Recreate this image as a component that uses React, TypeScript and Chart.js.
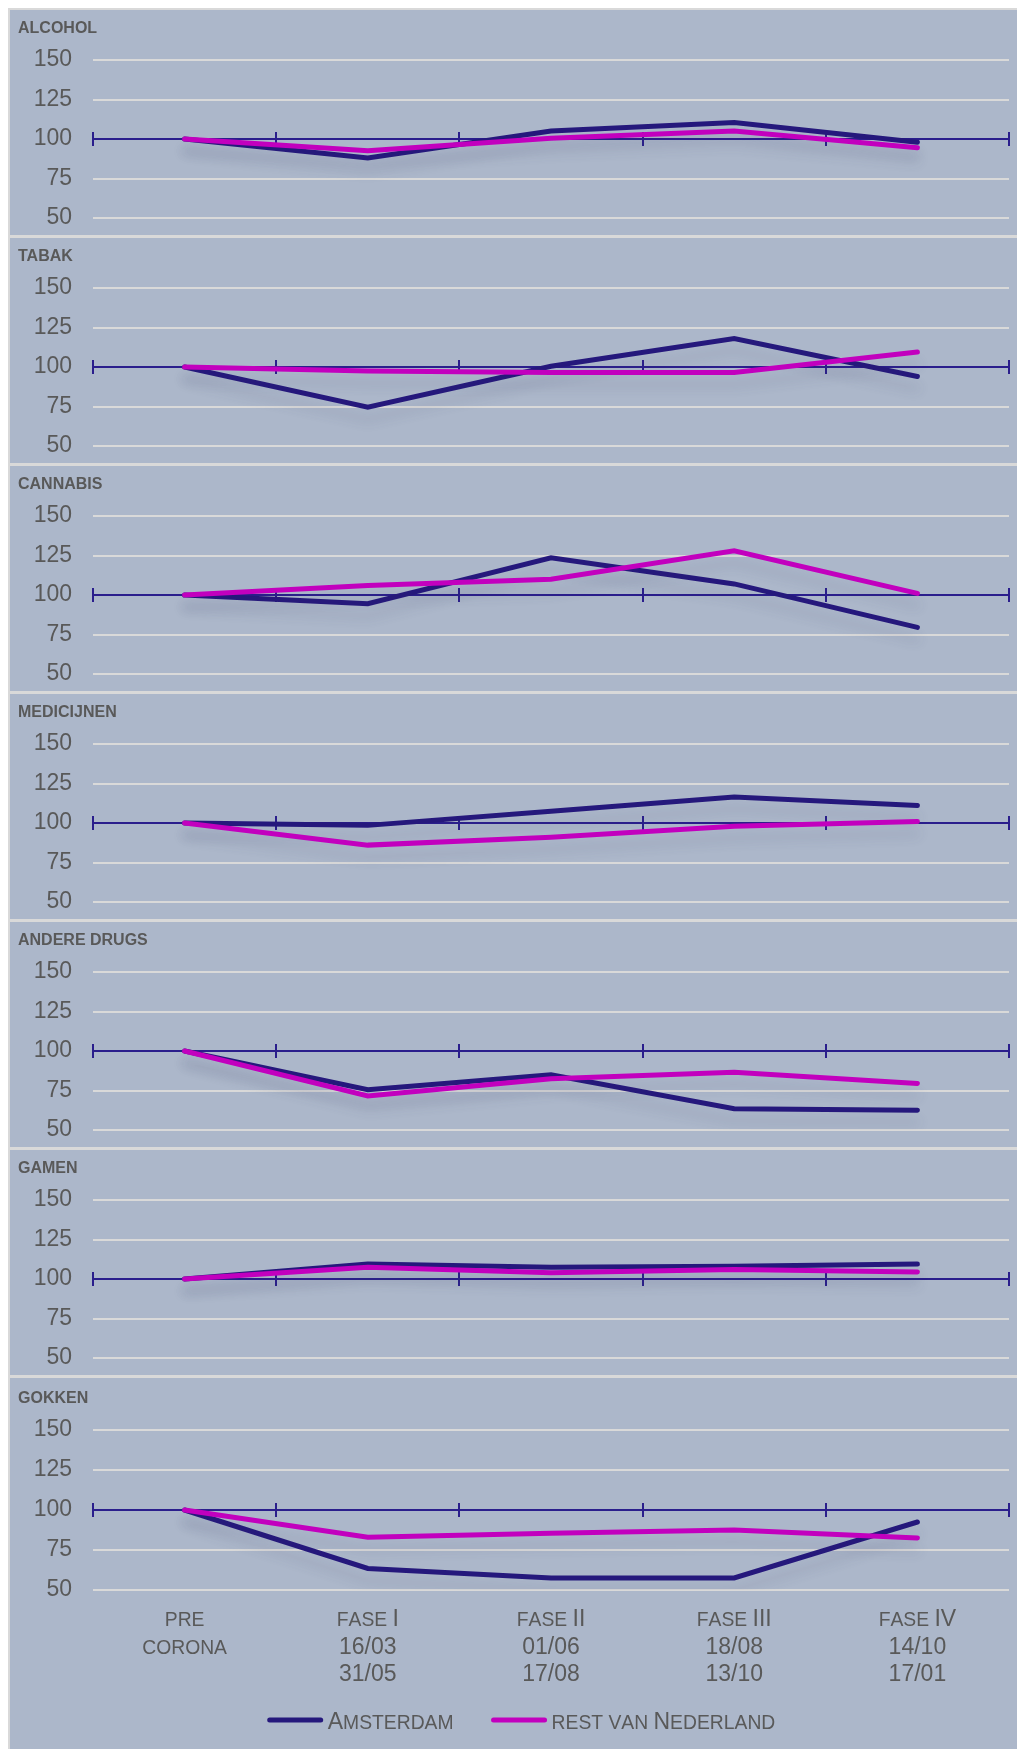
import React, { useEffect, useRef } from "react";
import { Chart, registerables } from "chart.js";

Chart.register(...registerables);

const FONT = "Arial, 'Liberation Sans', Helvetica, sans-serif";
const TEXT = "#595959";
const NAVY = "#25187C";
const AXIS_NAVY = "#2A1E8C";
const MAGENTA = "#C200BE";
const PANEL_BG = "#ACB7CA";
const FRAME = "#D9D9D9";
const GRID = "#D9D9D9";

// Categories along the x axis and the text lines shown under each one
const categories = ["pre corona", "fase I", "fase II", "fase III", "fase IV"];
const categoryLines = [
  ["pre", "corona"],
  ["fase I", "16/03", "31/05"],
  ["fase II", "01/06", "17/08"],
  ["fase III", "18/08", "13/10"],
  ["fase IV", "14/10", "17/01"],
];
const yTicks = [50, 75, 100, 125, 150];
const seriesNames = ["Amsterdam", "rest van Nederland"];

// Index values (pre corona = 100)
const alcoholAmsterdam = [100, 88, 105, 110.5, 98];
const alcoholRest = [100, 92.5, 100.5, 105, 94.5];
const tabakAmsterdam = [100, 74.5, 100.5, 118, 94];
const tabakRest = [100, 97.5, 96.5, 96.5, 109.5];
const cannabisAmsterdam = [100, 94.5, 123.5, 107, 79.5];
const cannabisRest = [100, 106, 110, 128, 101];
const medicijnenAmsterdam = [100, 98.5, 107.5, 116.5, 111];
const medicijnenRest = [100, 86, 91, 98, 101];
const andereDrugsAmsterdam = [100, 75.5, 85, 63.5, 62.5];
const andereDrugsRest = [100, 71.5, 82.5, 86.5, 79.5];
const gamenAmsterdam = [100, 109.5, 107.5, 108, 109.5];
const gamenRest = [100, 107.5, 104, 106, 104.5];
const gokkenAmsterdam = [100, 63.5, 57.5, 57.5, 92.5];
const gokkenRest = [100, 83, 85.5, 87.5, 82.5];

const panels = [
  { title: "ALCOHOL", amsterdam: alcoholAmsterdam, rest: alcoholRest },
  { title: "TABAK", amsterdam: tabakAmsterdam, rest: tabakRest },
  { title: "CANNABIS", amsterdam: cannabisAmsterdam, rest: cannabisRest },
  { title: "MEDICIJNEN", amsterdam: medicijnenAmsterdam, rest: medicijnenRest },
  { title: "ANDERE DRUGS", amsterdam: andereDrugsAmsterdam, rest: andereDrugsRest },
  { title: "GAMEN", amsterdam: gamenAmsterdam, rest: gamenRest },
  { title: "GOKKEN", amsterdam: gokkenAmsterdam, rest: gokkenRest },
];

const CANVAS_W = 1007;
const PANEL_H = 225;
const LAST_H = 371;
const SMALL_CAPS = 0.84;

// Small-caps text: lowercase letters become smaller capitals
function capsRuns(text: string, size: number) {
  const out: { ch: string; size: number }[] = [];
  for (const ch of text) {
    const small = ch !== ch.toUpperCase() || ch === " ";
    out.push({ ch: ch.toUpperCase(), size: small ? size * SMALL_CAPS : size });
  }
  return out;
}

function measureCaps(ctx: CanvasRenderingContext2D, text: string, size: number) {
  let w = 0;
  for (const r of capsRuns(text, size)) {
    ctx.font = `${r.size}px ${FONT}`;
    w += ctx.measureText(r.ch).width;
  }
  return w;
}

function drawCaps(
  ctx: CanvasRenderingContext2D,
  text: string,
  x: number,
  y: number,
  size: number,
  align: "left" | "center"
) {
  const w = measureCaps(ctx, text, size);
  let cx = align === "center" ? x - w / 2 : x;
  ctx.textAlign = "left";
  ctx.textBaseline = "alphabetic";
  for (const r of capsRuns(text, size)) {
    ctx.font = `${r.size}px ${FONT}`;
    ctx.fillText(r.ch, cx, y);
    cx += ctx.measureText(r.ch).width;
  }
}

// Navy reference line at 100 with tick marks at the category boundaries
const baselinePlugin = {
  id: "baseline100",
  beforeDatasetsDraw(chart: any) {
    const { ctx, chartArea, scales } = chart;
    const x = scales.x;
    const yy = Math.round(scales.y.getPixelForValue(100));
    ctx.save();
    ctx.strokeStyle = AXIS_NAVY;
    ctx.lineWidth = 2;
    ctx.beginPath();
    ctx.moveTo(chartArea.left, yy);
    ctx.lineTo(chartArea.right, yy);
    const n = chart.data.labels.length;
    for (let i = 0; i <= n; i++) {
      const px = Math.round(x.getPixelForValue(i - 0.5));
      ctx.moveTo(px, yy - 7);
      ctx.lineTo(px, yy + 7);
    }
    ctx.stroke();
    ctx.restore();
  },
};

// Soft drop shadow beneath the series lines
const lineShadowPlugin = {
  id: "lineShadow",
  beforeDatasetDraw(chart: any) {
    const ctx = chart.ctx;
    ctx.save();
    ctx.shadowColor = "rgba(60, 70, 105, 0.16)";
    ctx.shadowBlur = 12;
    ctx.shadowOffsetY = 12;
  },
  afterDatasetDraw(chart: any) {
    chart.ctx.restore();
  },
};

// Category labels beneath the last panel
const categoryLabelPlugin = {
  id: "categoryLabels",
  afterDraw(chart: any) {
    const { ctx, chartArea, scales } = chart;
    ctx.save();
    ctx.fillStyle = TEXT;
    categoryLines.forEach((lines, i) => {
      const cx = scales.x.getPixelForValue(i);
      lines.forEach((line, j) => {
        drawCaps(ctx, line, cx, chartArea.bottom + 36 + j * 27.5, 23, "center");
      });
    });
    ctx.restore();
  },
};

// Legend with line swatches and small-caps names
const capsLegendPlugin = {
  id: "capsLegend",
  afterDraw(chart: any) {
    const { ctx, chartArea } = chart;
    const swatch = 55;
    const gapIn = 5;
    const gapOut = 38;
    const items = chart.data.datasets.map((ds: any) => ({
      label: ds.label as string,
      color: ds.borderColor as string,
      w: measureCaps(ctx, ds.label, 23),
    }));
    const total =
      items.reduce((s: number, it: any) => s + swatch + gapIn + it.w, 0) +
      gapOut * (items.length - 1);
    let xx = chart.width / 2 + 8 - total / 2;
    const baseY = chartArea.bottom + 139;
    ctx.save();
    for (const it of items) {
      ctx.strokeStyle = it.color;
      ctx.lineWidth = 5;
      ctx.lineCap = "round";
      ctx.beginPath();
      ctx.moveTo(xx + 2, baseY - 9);
      ctx.lineTo(xx + swatch - 2, baseY - 9);
      ctx.stroke();
      xx += swatch + gapIn;
      ctx.fillStyle = TEXT;
      drawCaps(ctx, it.label, xx, baseY, 23, "left");
      xx += it.w + gapOut;
    }
    ctx.restore();
  },
};

function Panel({
  title,
  amsterdam,
  rest,
  last,
}: {
  title: string;
  amsterdam: number[];
  rest: number[];
  last: boolean;
}) {
  const ref = useRef<HTMLCanvasElement>(null);
  const height = last ? LAST_H : PANEL_H;

  useEffect(() => {
    const canvas = ref.current;
    if (!canvas) return;
    const lineStyle = {
      borderWidth: 5,
      pointRadius: 0,
      pointHoverRadius: 0,
      tension: 0,
      borderCapStyle: "round" as const,
      borderJoinStyle: "miter" as const,
      fill: false,
    };
    const plugins: any[] = [baselinePlugin, lineShadowPlugin];
    if (last) plugins.push(categoryLabelPlugin, capsLegendPlugin);

    const chart = new Chart(canvas, {
      type: "line",
      data: {
        labels: categories,
        datasets: [
          {
            label: seriesNames[0],
            data: amsterdam,
            borderColor: NAVY,
            backgroundColor: NAVY,
            order: 1,
            ...lineStyle,
          },
          {
            label: seriesNames[1],
            data: rest,
            borderColor: MAGENTA,
            backgroundColor: MAGENTA,
            order: 0,
            ...lineStyle,
          },
        ],
      },
      options: {
        responsive: false,
        animation: false,
        devicePixelRatio: 1,
        layout: {
          padding: { left: 8, right: 8, top: 0, bottom: last ? 159 : 17 },
        },
        plugins: {
          legend: { display: false },
          tooltip: { enabled: false },
          title: {
            display: true,
            text: title,
            align: "start",
            color: TEXT,
            font: { family: FONT, size: 16, weight: "bold" },
            padding: last ? { top: 10.9, bottom: 21.9 } : { top: 8.9, bottom: 21.9 },
          },
        },
        scales: {
          x: {
            display: false,
            offset: true,
          },
          y: {
            min: 50,
            max: 150,
            afterBuildTicks: (s: any) => {
              s.ticks = yTicks.map((v) => ({ value: v }));
            },
            afterFit: (s: any) => {
              s.width = 75;
            },
            ticks: {
              color: TEXT,
              font: { family: FONT, size: 23 },
              padding: 0,
            },
            grid: {
              color: (c: any) =>
                c.tick && c.tick.value === 100 ? "rgba(0,0,0,0)" : GRID,
              lineWidth: 2,
              drawTicks: true,
              tickLength: 21,
              tickColor: "rgba(0,0,0,0)",
            },
            border: { display: false },
          },
        },
      },
      plugins,
    } as any);
    return () => chart.destroy();
  }, [title, amsterdam, rest, last]);

  return (
    <div
      style={{
        background: PANEL_BG,
        height,
        marginBottom: last ? 0 : 3,
        overflow: "hidden",
      }}
    >
      <canvas
        ref={ref}
        width={CANVAS_W}
        height={height}
        style={{ display: "block", width: CANVAS_W, height }}
      />
    </div>
  );
}

export default function App() {
  return (
    <div
      style={{
        position: "fixed",
        left: 8,
        top: 8,
        right: 0,
        bottom: 0,
        background: FRAME,
        paddingLeft: 2,
        paddingTop: 2,
        boxSizing: "border-box",
        overflow: "hidden",
      }}
    >
      {panels.map((p, i) => (
        <Panel
          key={p.title}
          title={p.title}
          amsterdam={p.amsterdam}
          rest={p.rest}
          last={i === panels.length - 1}
        />
      ))}
    </div>
  );
}
